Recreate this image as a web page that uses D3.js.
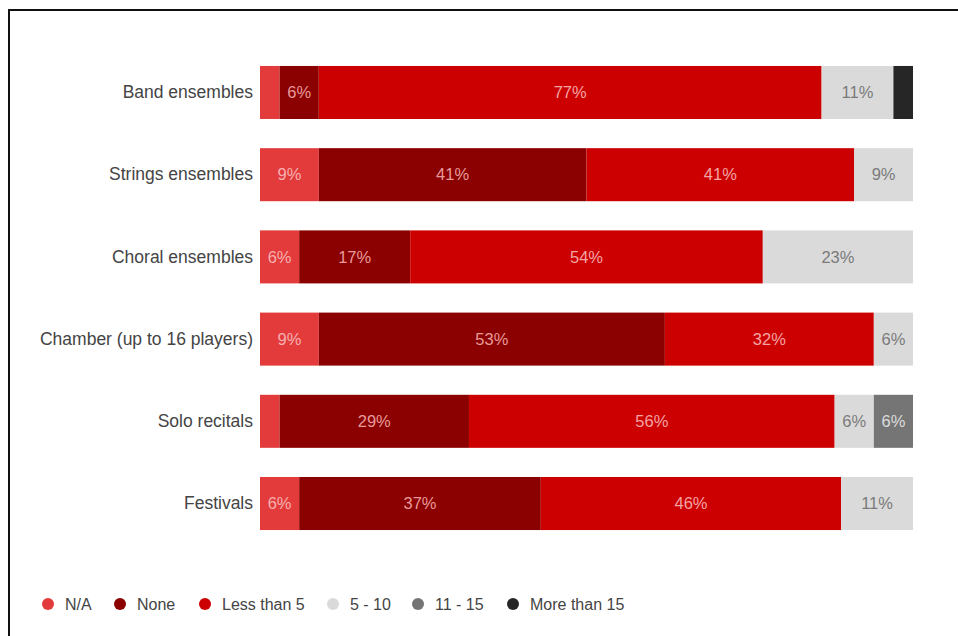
<!DOCTYPE html>
<meta charset="utf-8">
<script src="https://cdn.jsdelivr.net/npm/d3@7"></script>
<style>
body { margin: 0; background: #fff; }
text { font-family: "Liberation Sans", Arial, sans-serif; }
</style>
<body>
<script>

var categories = ["Band ensembles", "Strings ensembles", "Choral ensembles",
  "Chamber (up to 16 players)", "Solo recitals", "Festivals"];
var seriesNames = ["N/A", "None", "Less than 5", "5 - 10", "11 - 15", "More than 15"];
var colors = ["#e33b3b", "#8b0000", "#cc0000", "#dadada", "#757575", "#262626"];
var textColors = ["#f6b0b0", "#e89a9a", "#f4a4a4", "#7a7a7a", "#dcdcdc", "#bbbbbb"];

// one array per series, in category order
var naVals     = [3, 9, 6, 9, 3, 6];
var noneVals   = [6, 41, 17, 53, 29, 37];
var lt5Vals    = [77, 41, 54, 32, 56, 46];
var v5to10     = [11, 9, 23, 6, 6, 11];
var v11to15    = [0, 0, 0, 0, 6, 0];
var gt15Vals   = [3, 0, 0, 0, 0, 0];

var series = [naVals, noneVals, lt5Vals, v5to10, v11to15, gt15Vals];

var width = 958, height = 636;

var svg = d3.select("body").append("svg")
    .attr("width", width)
    .attr("height", height);

// frame (only top and left edges fall inside the picture)
svg.append("rect")
    .attr("x", 9).attr("y", 10)
    .attr("width", 1000).attr("height", 700)
    .attr("fill", "none")
    .attr("stroke", "#111")
    .attr("stroke-width", 2);

var x = d3.scaleLinear().domain([0, 100]).range([260, 913]);
var y = d3.scaleBand().domain(categories).range([41.3, 554.7]).paddingInner(0.355).paddingOuter(0.3);

var rows = categories.map(function(c, i) {
  var row = {cat: c};
  seriesNames.forEach(function(s, j) { row[s] = series[j][i]; });
  return row;
});

var stack = d3.stack().keys(seriesNames)(rows);

var layer = svg.append("g").selectAll("g")
    .data(stack)
    .enter().append("g");

layer.selectAll("rect")
    .data(function(d) { return d.map(function(p) { return {p: p, key: d.key, idx: d.index}; }); })
    .enter().append("rect")
    .attr("x", function(d) { return x(d.p[0]); })
    .attr("y", function(d) { return y(d.p.data.cat); })
    .attr("width", function(d) { return x(d.p[1]) - x(d.p[0]); })
    .attr("height", y.bandwidth())
    .attr("fill", function(d) { return colors[d.idx]; });

layer.selectAll("text")
    .data(function(d) { return d.map(function(p) { return {p: p, key: d.key, idx: d.index}; }); })
    .enter().filter(function(d) { return d.p[1] - d.p[0] >= 5; })
    .append("text")
    .attr("x", function(d) { return (x(d.p[0]) + x(d.p[1])) / 2; })
    .attr("y", function(d) { return y(d.p.data.cat) + y.bandwidth() / 2; })
    .attr("dy", "0.35em")
    .attr("text-anchor", "middle")
    .style("font-size", "16.5px")
    .attr("fill", function(d) { return textColors[d.idx]; })
    .text(function(d) { return (d.p[1] - d.p[0]) + "%"; });

// category labels
var yAxis = d3.axisLeft(y).tickSize(0).tickPadding(7);
var ax = svg.append("g")
    .attr("transform", "translate(260,0)")
    .call(yAxis);
ax.select(".domain").remove();
ax.selectAll("text")
    .style("font-size", "17.5px")
    .style("font-family", "'Liberation Sans', Arial, sans-serif")
    .attr("fill", "#444");

// legend
var legendX = [48, 120, 205, 333, 418, 513];
var legend = svg.append("g").selectAll("g")
    .data(seriesNames)
    .enter().append("g")
    .attr("transform", function(d, i) { return "translate(" + legendX[i] + ",604)"; });

legend.append("circle")
    .attr("r", 6)
    .attr("fill", function(d, i) { return colors[i]; });

legend.append("text")
    .attr("x", 17)
    .attr("dy", "0.35em")
    .style("font-size", "16px")
    .attr("fill", "#444")
    .text(function(d) { return d; });

</script>
</body>
